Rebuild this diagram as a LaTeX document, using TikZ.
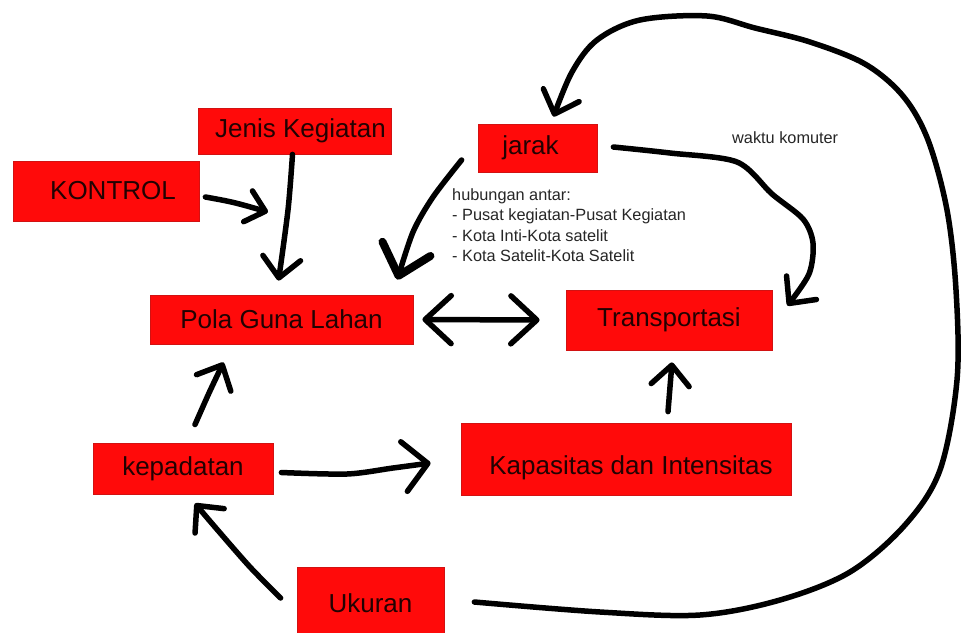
\documentclass[tikz,border=0pt]{standalone}
\usepackage{fontspec}
\setmainfont{Liberation Sans}
\usepackage{xcolor}
\usetikzlibrary{arrows.meta}
\definecolor{boxred}{HTML}{FF0A0A}
\definecolor{boxedge}{HTML}{D21212}
\definecolor{boxtext}{HTML}{220202}
\tikzset{
  rbox/.style={fill=boxred, draw=boxedge, line width=0.8pt, text=boxtext, font=\fontsize{26}{28}\selectfont, inner sep=0pt},
  note/.style={font=\fontsize{16.3}{20.5}\selectfont, align=left, inner sep=0pt, text=black!85},
  harr/.style={line width=5.5pt, line cap=round, line join=round, -{Straight Barb[length=20pt,width=38pt,round]}},
  harrb/.style={line width=5.5pt, line cap=round, line join=round, {Straight Barb[length=26pt,width=48pt,round]}-{Straight Barb[length=26pt,width=48pt,round]}}
}
\begin{document}
\begin{tikzpicture}[x=1pt,y=-1pt]
\useasboundingbox (0,0) rectangle (961,632);
\fill[white] (0,0) rectangle (961,632);
% boxes
\node[rbox, minimum width=186pt, minimum height=60pt] (kon) at (106,191) {\hspace*{14pt}KONTROL};
\node[rbox, minimum width=193pt, minimum height=46pt] (jen) at (294.5,131) {\hspace*{12pt}Jenis Kegiatan};
\node[rbox, minimum width=263pt, minimum height=49pt] (pola) at (281.5,319.5) {Pola Guna Lahan};
\node[rbox, minimum width=119pt, minimum height=48pt] (jar) at (537.5,148) {jarak\hspace*{14pt}};
\node[rbox, minimum width=206pt, minimum height=60pt] (trans) at (669,320) {Transportasi};
\node[rbox, minimum width=180pt, minimum height=51pt] (kep) at (183,468.5) {kepadatan};
\node[rbox, minimum width=330pt, minimum height=72pt] (kap) at (626,459) {\raisebox{-9pt}[\height][\depth]{\hspace*{10pt}Kapasitas dan Intensitas}};
\node[rbox, minimum width=147pt, minimum height=66pt] (uk) at (370.5,600) {\raisebox{-3pt}[\height][\depth]{Ukuran}};
% texts
\node[note, anchor=north west] (hub) at (452,188) {hubungan antar:\\- Pusat kegiatan-Pusat Kegiatan\\- Kota Inti-Kota satelit\\- Kota Satelit-Kota Satelit};
\node[note, anchor=west] (wak) at (732,138) {waktu komuter};
\coordinate (kt) at (268,212);
% arrows
\draw[harr, -{Straight Barb[length=18pt,width=32pt,round]}] ([shift={(6,6)}]kon.east) .. controls (233,202) .. (kt);
\draw[harr] plot[smooth] coordinates {([xshift=-2]jen.south) (288,210) ([shift={(-3,-14)}]pola.north)};
\draw[harr, -{Straight Barb[length=28pt,width=50pt,round,line width=8pt]}] plot[smooth] coordinates {([shift={(-16,12)}]jar.west) (433,197) (413,232) ([shift={(-16,-15)}]pola.north east)};
\draw[harrb] ([xshift=9]pola.east) -- ([xshift=-26]trans.west);
\draw[harr] plot[smooth, tension=0.5] coordinates {([shift={(16,-1)}]jar.east) (670,153) (737,162) (772,194) (803,219) (813,243) (809,274) ([shift={(15,16)}]trans.north east)};
\draw[harr] plot[smooth, tension=0.55] coordinates {([shift={(30,2)}]uk.east) (600,612) (700,615) (780,600) (850,572) (905,525) (940,470) (957,380) (956,290) (947,210) (928,140) (903,96) (865,64) (810,42) (755,28) (707,16) (640,20) (597,40) (572,72) ([shift={(16,-7)}]jar.north)};
\draw[harr] plot[smooth] coordinates {([shift={(12,-18)}]kep.north) (209,393) ([shift={(-58,18)}]pola.south)};
\draw[harr, -{Straight Barb[length=24pt,width=50pt,round]}] plot[smooth, tension=0.5] coordinates {([shift={(8,4)}]kep.east) (347,474) (393,468) ([shift={(-30,4)}]kap.west)};
\draw[harr] plot[smooth] coordinates {([shift={(-16,-2)}]uk.west) (250,567) (215,527) ([shift={(12,9)}]kep.south)};
\draw[harr] ([shift={(42,-11)}]kap.north) -- ([shift={(3,12)}]trans.south);
\end{tikzpicture}
\end{document}
